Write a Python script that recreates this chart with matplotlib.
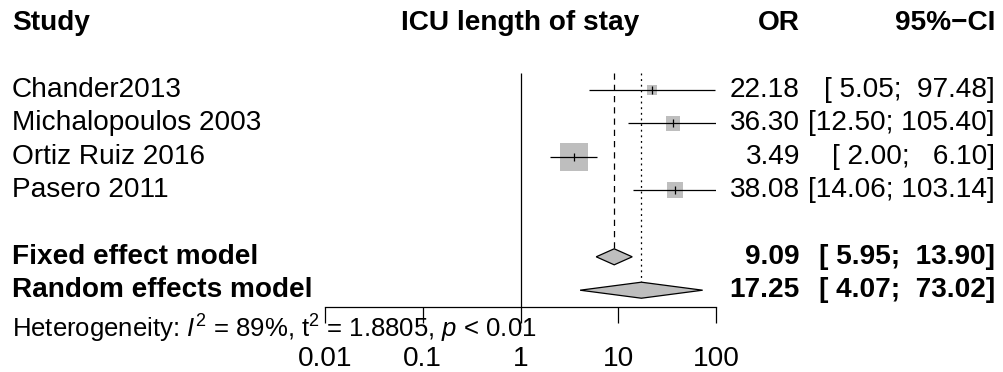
#!/usr/bin/env python3

import numpy as np
import matplotlib
matplotlib.use("Agg")
import matplotlib.pyplot as plt
from matplotlib.transforms import blended_transform_factory

plt.rcParams['font.family'] = ['Liberation Sans', 'DejaVu Sans']
plt.rcParams['mathtext.fontset'] = 'custom'
plt.rcParams['mathtext.rm'] = 'Liberation Sans'
plt.rcParams['mathtext.it'] = 'Liberation Sans:italic'

# data
studies = ["Chander2013", "Michalopoulos 2003", "Ortiz Ruiz 2016", "Pasero 2011"]
odds = [22.18, 36.30, 3.49, 38.08]
lower = [5.05, 12.50, 2.00, 14.06]
upper = [97.48, 105.40, 6.10, 103.14]
weights = [8.2, 15.8, 57.9, 18.1]  # % (from the square sizes)

models = ["Fixed effect model", "Random effects model"]
model_or = [9.09, 17.25]
model_lo = [5.95, 4.07]
model_hi = [13.90, 73.02]

het_text = r"Heterogeneity: $I^2$ = 89%, $\mathrm{t}^2$ = 1.8805, $p$ < 0.01"
xticks = [0.01, 0.1, 1, 10, 100]
xticklabels = ["0.01", "0.1", "1", "10", "100"]

FS = 20.2
W, H = 1004, 372
row0_px, row_px = 23, 33.4

def main():
    fig = plt.figure(figsize=(W / 100, H / 100), dpi=100)
    ax = fig.add_axes([325 / W, 0, (716 - 325) / W, 1])
    ax.set_xscale('log')
    ax.set_xlim(0.01, 100)
    ax.set_ylim((H - row0_px) / row_px, -row0_px / row_px)
    ax.patch.set_visible(False)

    for s in ['top', 'left', 'right']:
        ax.spines[s].set_visible(False)
    ax.spines['bottom'].set_position(('data', 8.5))
    ax.spines['bottom'].set_linewidth(0.9)
    ax.set_yticks([])
    ax.set_xticks(xticks, xticklabels, fontsize=FS)
    ax.minorticks_off()
    ax.tick_params(axis='x', direction='out', length=11.5, width=0.9, pad=16.5)

    rows = np.arange(len(studies)) + 2
    mrows = np.array([7, 8])
    h = 0.24

    # reference lines
    ax.vlines(1, 1.5, 8.5, color='black', lw=0.9)
    ax.vlines(model_or[0], 1.5, mrows[0] - h, color='black', lw=0.9, linestyles=(0, (5, 4)))
    ax.vlines(model_or[1], 1.5, mrows[1] - h, color='black', lw=0.9, linestyles=(0, (1.5, 3)))

    # squares, CI lines and point ticks
    w = np.array(weights)
    side = 28 * 0.72 * np.sqrt(w / w.max())
    ax.scatter(odds, rows, marker='s', s=side ** 2, color='#BEBEBE', lw=0, zorder=2)
    ax.hlines(rows, lower, upper, color='black', lw=0.9, zorder=3)
    ax.scatter(odds, rows, marker='|', s=(8 * 0.72) ** 2, color='black', lw=0.9, zorder=4)

    # diamonds
    for r, est, lo, hi in zip(mrows, model_or, model_lo, model_hi):
        ax.fill([lo, est, hi, est], [r, r - h, r, r + h], facecolor='#BEBEBE',
                edgecolor='black', lw=0.9, zorder=3, clip_on=False)

    tr = blended_transform_factory(fig.transFigure, ax.transData)
    xl, xo, xc = 12 / W, 800 / W, 995 / W

    # header
    ax.text(xl, 0, "Study", transform=tr, fontsize=FS, fontweight='bold', va='center')
    ax.text(1, 0, "ICU length of stay", fontsize=FS, fontweight='bold', va='center', ha='center')
    ax.text(xo, 0, "OR", transform=tr, fontsize=FS, fontweight='bold', va='center', ha='right')
    ax.text(xc, 0, "95%\u2212CI", transform=tr, fontsize=FS, fontweight='bold', va='center', ha='right')

    def ci(lo, hi):
        return "[" + f"{lo:5.2f}" + "; " + f"{hi:6.2f}" + "]"

    for r, name, o, lo, hi in zip(rows, studies, odds, lower, upper):
        ax.text(xl, r, name, transform=tr, fontsize=FS, va='center')
        ax.text(xo, r, f"{o:.2f}", transform=tr, fontsize=FS, va='center', ha='right')
        ax.text(xc, r, ci(lo, hi), transform=tr, fontsize=FS, va='center', ha='right')

    for r, name, o, lo, hi in zip(mrows, models, model_or, model_lo, model_hi):
        ax.text(xl, r, name, transform=tr, fontsize=FS, fontweight='bold', va='center')
        ax.text(xo, r, f"{o:.2f}", transform=tr, fontsize=FS, fontweight='bold', va='center', ha='right')
        ax.text(xc, r, ci(lo, hi), transform=tr, fontsize=FS, fontweight='bold', va='center', ha='right')

    ax.text(xl, 9.15, het_text, transform=tr, fontsize=FS * 11 / 12, va='center')

    fig.savefig("out.png", dpi=100)


if __name__ == "__main__":
    main()
